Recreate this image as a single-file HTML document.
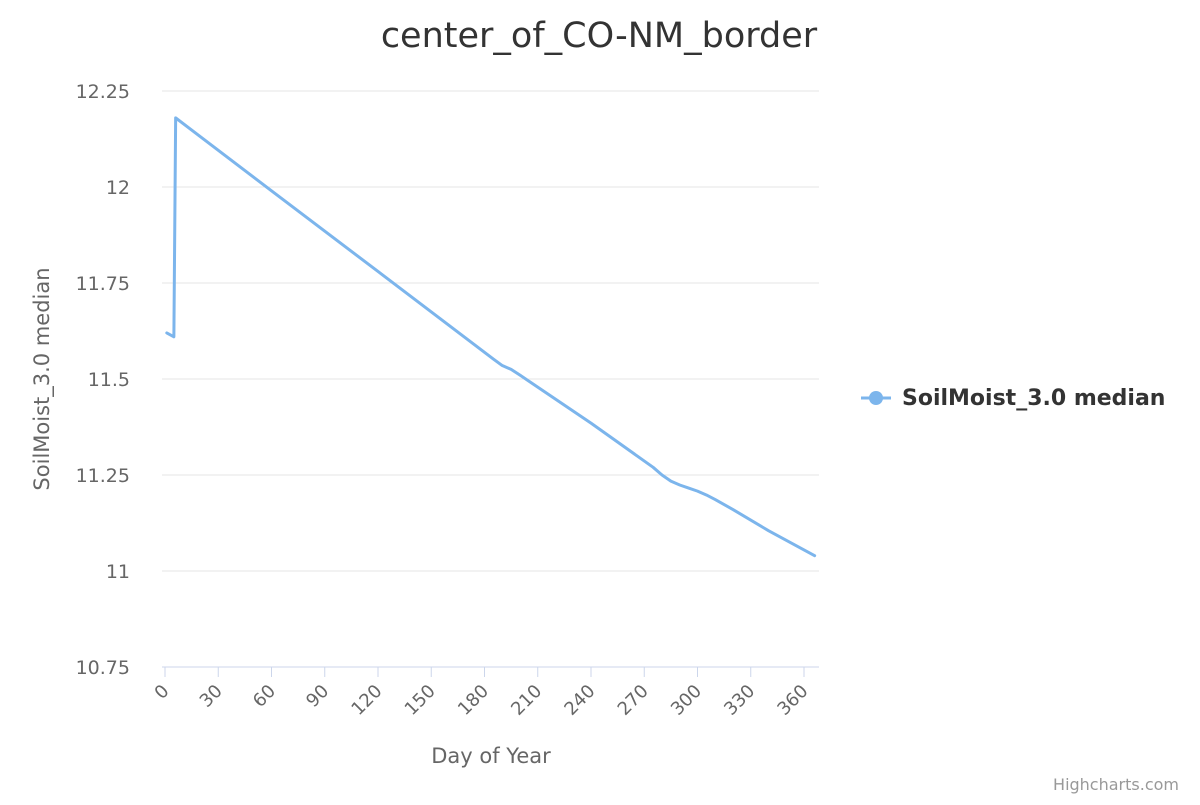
<!DOCTYPE html>
<html><head><meta charset="utf-8"><style>
body{margin:0;background:#fff;font-family:"Liberation Sans","DejaVu Sans",sans-serif}
svg text{font-family:"DejaVu Sans","Liberation Sans",sans-serif}
</style></head><body>
<svg id="chart" width="1200" height="800">
<text x="599" y="47" text-anchor="middle" font-size="35" fill="#333">center_of_CO-NM_border</text>
<g id="grid"></g><g id="xaxis"></g><g id="yaxis"></g><g id="series"></g>
<text transform="translate(49,379) rotate(-90)" text-anchor="middle" font-size="21" fill="#666">SoilMoist_3.0 median</text>
<text x="491" y="763" text-anchor="middle" font-size="21" fill="#666">Day of Year</text>
<g>
<line x1="861" y1="398" x2="891" y2="398" stroke="#7cb5ec" stroke-width="3"/>
<circle cx="876" cy="398" r="7" fill="#7cb5ec"/>
<text x="902" y="405" font-size="22" font-weight="bold" fill="#333">SoilMoist_3.0 median</text>
</g>
<text x="1179" y="790" text-anchor="end" font-size="16" fill="#999">Highcharts.com</text>
</svg>
<script>
const days=[1,5,6,60,120,185,190,195,200,240,275,280,285,290,295,300,305,310,320,340,366];
const values=[11.62,11.61,12.18,11.99,11.78,11.552,11.535,11.525,11.51,11.385,11.27,11.25,11.234,11.224,11.216,11.208,11.198,11.186,11.16,11.105,11.04];
const xTicks=[0,30,60,90,120,150,180,210,240,270,300,330,360];
const yTicks=[10.75,11,11.25,11.5,11.75,12,12.25];
const L=165,R=819,T=91,B=667;
const xs=d=>L+d*(804-165)/360;
const ys=v=>B-(v-10.75)/1.5*(B-T);
const NS='http://www.w3.org/2000/svg';
function mk(t,a,p){const e=document.createElementNS(NS,t);for(const k in a)e.setAttribute(k,a[k]);p.appendChild(e);return e;}
const g=document.getElementById('grid'),ya=document.getElementById('yaxis'),xa=document.getElementById('xaxis'),s=document.getElementById('series');
yTicks.forEach(v=>{
 const l=mk('line',{x1:162,x2:R,y1:ys(v),y2:ys(v),stroke:v===10.75?'#ccd6eb':'#e6e6e6','stroke-width':1},g);
 
 
 const t=mk('text',{x:130,y:ys(v)+7,'text-anchor':'end','font-size':19,fill:'#666'},ya);
 t.textContent=String(v);
 
 
});
xTicks.forEach(d=>{
 const x=xs(d);
 const l=mk('line',{x1:x,x2:x,y1:B,y2:B+10,stroke:'#ccd6eb'},xa);
 
 
 const t=mk('text',{x:x+5,y:B+25,'text-anchor':'end','font-size':18,fill:'#666',transform:`rotate(-45 ${x+5} ${B+25})`},xa);
 t.textContent=String(d);
 
 
});
const p=mk('polyline',{points:days.map((d,i)=>xs(d)+','+ys(values[i])).join(' '),fill:'none',stroke:'#7cb5ec','stroke-width':3,'stroke-linejoin':'round','stroke-linecap':'round'},s);


</script>
</body></html>
